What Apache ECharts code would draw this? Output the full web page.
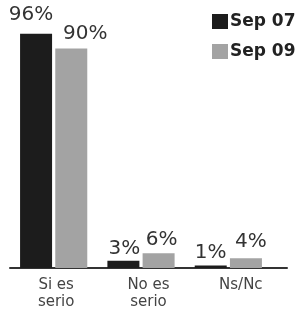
<!DOCTYPE html>
<html><head><meta charset="utf-8">
<script src="https://cdn.jsdelivr.net/npm/echarts@6/dist/echarts.min.js"></script>
<style>html,body{margin:0;padding:0;background:#fff}#c{width:297px;height:313px}</style>
</head><body><div id="c"></div>
<script>
const categories = ['Si es\nserio', 'No es\nserio', 'Ns/Nc'];
const seriesNames = ['Sep 07', 'Sep 09'];
const sep07 = [96, 3, 1];
const sep09 = [90, 6, 4];
// label nudges (styling only)
const off07 = [[-5, -7], [1, 0], [0, -1]];
const off09 = [[14, -3], [3, -2], [5, -4]];

const font = 'DejaVu Sans';
function items(vals, offs) {
  return vals.map((v, i) => ({ value: v, label: { offset: offs[i] } }));
}
const chart = echarts.init(document.getElementById('c'), null, { renderer: 'canvas' });
chart.setOption({
  animation: false,
  textStyle: { fontFamily: font },
  legend: {
    orient: 'vertical', left: 207, top: 8,
    itemWidth: 16, itemHeight: 15, itemGap: 13,
    icon: 'rect',
    data: seriesNames,
    textStyle: { fontFamily: font, fontSize: 17, fontWeight: 'bold', color: '#222', padding: [0, 0, 0, -3] }
  },
  grid: [
    { left: 10, right: 10, top: 24, height: 244 },
    { left: 10, width: 262, top: 24, height: 244 }
  ],
  xAxis: [
    { type: 'category', gridIndex: 0, data: categories,
      axisLine: { lineStyle: { color: '#333', width: 2 } },
      axisTick: { show: false },
      axisLabel: { fontFamily: font, fontSize: 15, color: '#444', lineHeight: 17, margin: 9 } },
    { type: 'category', gridIndex: 1, data: categories, show: false }
  ],
  yAxis: [
    { type: 'value', gridIndex: 0, min: 0, max: 100, show: false },
    { type: 'value', gridIndex: 1, min: 0, max: 100, show: false }
  ],
  series: [
    { name: seriesNames[0], type: 'bar', xAxisIndex: 1, yAxisIndex: 1,
      barWidth: 32, barGap: '10%', data: items(sep07, off07),
      itemStyle: { color: '#1c1c1c' },
      label: { show: true, position: 'top', distance: 2, formatter: '{c}%', fontFamily: font, fontSize: 20, color: '#333' } },
    { name: seriesNames[1], type: 'bar', xAxisIndex: 1, yAxisIndex: 1,
      barWidth: 32, barGap: '10%', data: items(sep09, off09),
      itemStyle: { color: '#a3a3a3' },
      label: { show: true, position: 'top', distance: 2, formatter: '{c}%', fontFamily: font, fontSize: 20, color: '#333' } }
  ]
});
</script></body></html>
